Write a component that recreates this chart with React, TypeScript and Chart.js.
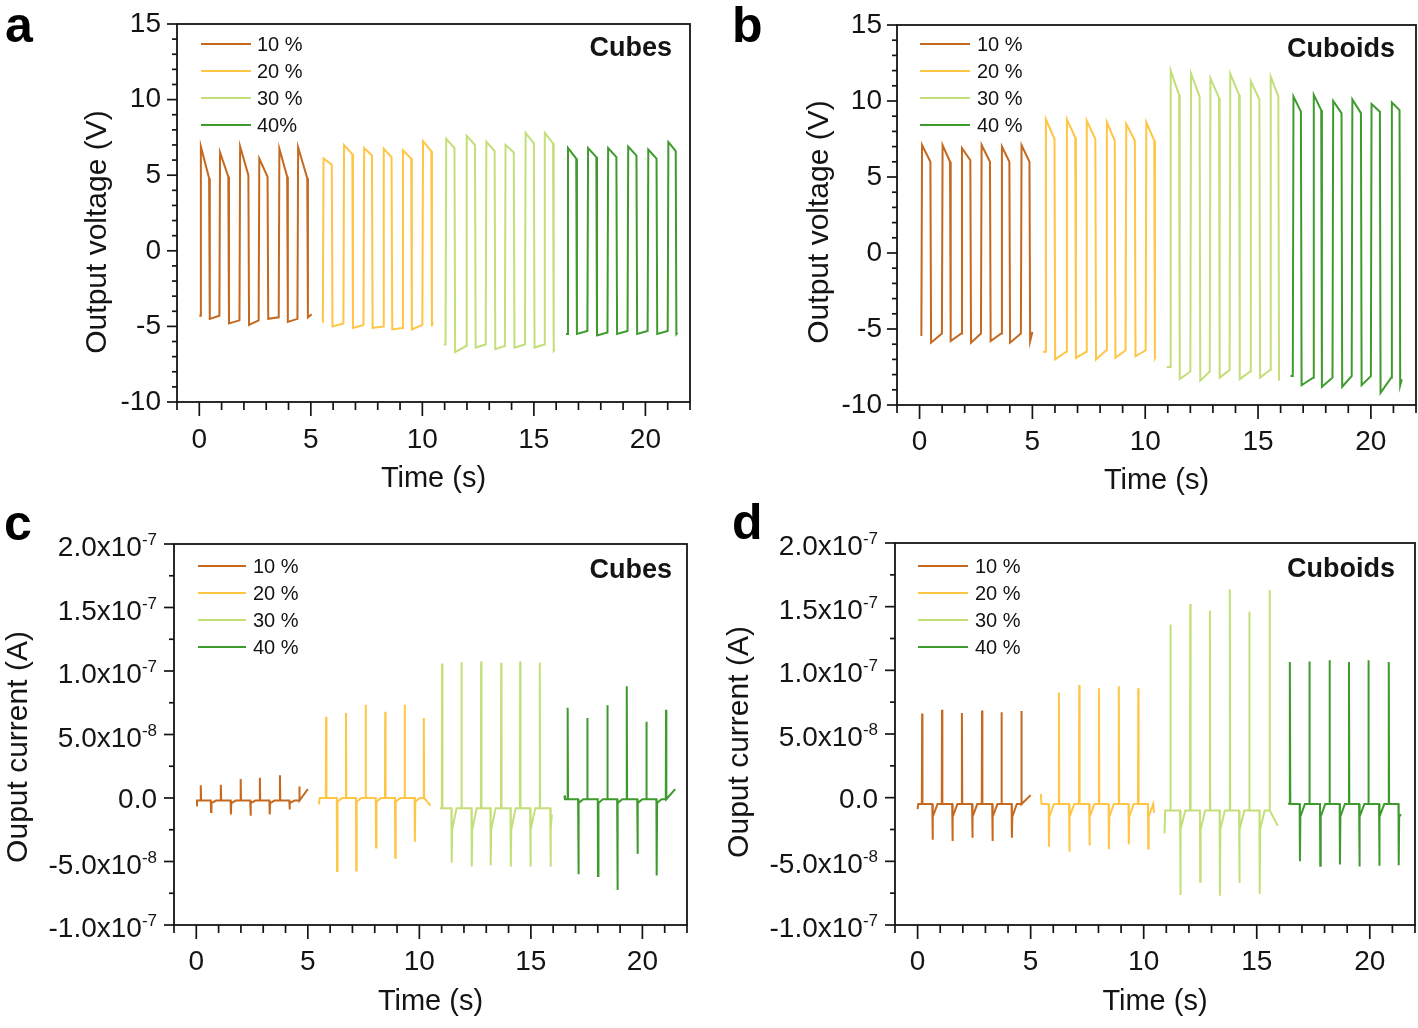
import React, { useEffect, useRef } from 'react';
import { Chart, registerables } from 'chart.js';

Chart.register(...registerables);

const FONT = "'Liberation Sans', Arial, Helvetica, sans-serif";
const INK = '#141414';

// ---------- shared labels / axes ----------
const LABELS_CUBES_V = ['10 %', '20 %', '30 %', '40%'];
const LABELS = ['10 %', '20 %', '30 %', '40 %'];
const COLORS = ['#C4691F', '#FFC646', '#C3DF7A', '#3E9A2D'];

const TIME_MIN = -1;
const TIME_MAX = 22;
const TIME_LABEL_TICKS = [0, 5, 10, 15, 20];
const VOLT_MIN = -10;
const VOLT_MAX = 15;
const VOLT_LABEL_TICKS = [-10, -5, 0, 5, 10, 15];
const CURR_MIN = -10; // units of 1e-8 A
const CURR_MAX = 20;
const CURR_LABEL_TICKS = [-10, -5, 0, 5, 10, 15, 20];
const CURR_UNIT = 1e-8;

// ---------- (a) Cubes, output voltage (V) ----------
const A_START_T = [0.0, 5.5, 10.96, 16.44];
const A_START_V = [-4.3, -4.7, -6.2, -5.5];
const A_END_T = [5.04, 10.46, 15.94, 21.44];
const A_RISE = [
  [0.04, 0.9, 1.8, 2.66, 3.56, 4.4],
  [5.54, 6.46, 7.36, 8.24, 9.1, 10.0],
  [11.04, 11.96, 12.84, 13.7, 14.6, 15.46],
  [16.5, 17.4, 18.3, 19.2, 20.1, 21.0],
];
const A_FALL = [
  [0.44, 1.3, 2.2, 3.06, 3.94, 4.84],
  [5.94, 6.86, 7.74, 8.62, 9.5, 10.4],
  [11.44, 12.36, 13.24, 14.1, 15.0, 15.86],
  [16.9, 17.8, 18.7, 19.6, 20.5, 21.36],
];
const A_PEAK = [
  [6.9, 6.5, 6.9, 6.1, 6.75, 6.85],
  [6.1, 7.0, 6.8, 6.75, 6.65, 7.25],
  [7.4, 7.6, 7.2, 7.0, 7.8, 7.8],
  [6.8, 6.8, 6.8, 6.9, 6.7, 7.2],
];
const A_HIGH_END = [
  [4.8, 4.9, 5.0, 4.9, 4.9, 4.8],
  [5.7, 6.4, 6.3, 6.2, 6.1, 6.6],
  [6.8, 7.0, 6.6, 6.5, 7.1, 7.1],
  [6.1, 6.2, 6.2, 6.3, 6.1, 6.6],
];
const A_TROUGH = [
  [-4.5, -4.8, -4.9, -4.5, -4.7, -4.4],
  [-5.0, -5.1, -5.1, -5.2, -5.2, -5.0],
  [-6.7, -6.4, -6.5, -6.4, -6.4, -6.6],
  [-5.5, -5.6, -5.5, -5.5, -5.5, -5.5],
];
const A_LOW_END = [
  [-4.3, -4.6, -4.6, -4.4, -4.5, -4.2],
  [-4.8, -4.9, -5.0, -5.1, -4.9, -4.7],
  [-6.3, -6.2, -6.3, -6.2, -6.2, -6.5],
  [-5.3, -5.4, -5.3, -5.3, -5.3, -5.4],
];

// ---------- (b) Cuboids, output voltage (V) ----------
const B_START_T = [0.04, 5.47, 10.95, 16.44];
const B_START_V = [-5.4, -6.5, -7.5, -8.1];
const B_END_T = [5.0, 10.46, 15.94, 21.37];
const B_RISE = [
  [0.08, 0.99, 1.85, 2.72, 3.62, 4.49],
  [5.57, 6.5, 7.38, 8.27, 9.13, 10.02],
  [11.1, 12.0, 12.86, 13.74, 14.65, 15.53],
  [16.54, 17.44, 18.3, 19.15, 20.0, 20.9],
];
const B_FALL = [
  [0.48, 1.35, 2.25, 3.12, 3.98, 4.87],
  [5.98, 6.9, 7.79, 8.65, 9.54, 10.4],
  [11.5, 12.41, 13.27, 14.16, 15.06, 15.9],
  [16.9, 17.8, 18.7, 19.56, 20.4, 21.27],
];
const B_PEAK = [
  [7.1, 7.1, 6.9, 7.1, 7.0, 7.1],
  [8.8, 8.8, 8.7, 8.6, 8.5, 8.6],
  [12.0, 11.8, 11.5, 11.8, 11.3, 11.6],
  [10.3, 10.4, 10.0, 10.1, 9.8, 9.9],
];
const B_HIGH_END = [
  [6.0, 6.0, 6.1, 6.0, 6.0, 6.0],
  [7.5, 7.6, 7.5, 7.4, 7.4, 7.4],
  [10.4, 10.3, 10.2, 10.4, 10.1, 10.3],
  [9.3, 9.4, 9.2, 9.2, 9.3, 9.4],
];
const B_TROUGH = [
  [-5.9, -5.8, -5.9, -5.8, -5.9, -5.8],
  [-7.0, -6.9, -7.0, -6.9, -6.8, -6.9],
  [-8.3, -8.4, -8.2, -8.3, -8.2, -8.4],
  [-8.7, -8.8, -8.8, -8.7, -9.2, -8.7],
];
const B_LOW_END = [
  [-5.3, -5.3, -5.3, -5.3, -5.3, -5.2],
  [-6.5, -6.5, -6.4, -6.4, -6.4, -6.8],
  [-7.8, -7.8, -7.7, -7.8, -7.7, -8.4],
  [-8.2, -8.2, -8.1, -8.1, -8.2, -8.3],
];

// ---------- (c) Cubes, output current (x1e-8 A) ----------
const C_START_T = [0.0, 5.5, 10.92, 16.5];
const C_START_V = [-0.6, -0.5, -0.8, 0.2];
const C_END_T = [5.0, 10.5, 15.94, 21.47];
const C_END_V = [0.7, -0.6, -1.3, 0.7];
const C_BASE = [-0.2, 0.0, -0.8, -0.1];
const C_RECOVER = [-0.4, -0.3, -2.5, -0.4];
const C_POS_T = [
  [0.2, 1.1, 1.99, 2.85, 3.75, 4.62],
  [5.82, 6.71, 7.59, 8.47, 9.34, 10.2],
  [11.02, 11.89, 12.77, 13.67, 14.52, 15.4],
  [16.65, 17.53, 18.43, 19.3, 20.18, 21.06],
];
const C_POS_V = [
  [1.0, 1.05, 1.5, 1.6, 1.8, 0.9],
  [6.4, 6.7, 7.35, 6.8, 7.35, 6.3],
  [10.6, 10.7, 10.75, 10.65, 10.75, 10.65],
  [7.1, 6.3, 7.3, 8.8, 6.0, 6.95],
];
const C_NEG_T = [
  [0.66, 1.55, 2.43, 3.29, 4.18],
  [6.31, 7.17, 8.06, 8.92, 9.8],
  [11.45, 12.35, 13.2, 14.1, 14.98, 15.88],
  [17.13, 18.01, 18.88, 19.78, 20.64],
];
const C_NEG_V = [
  [-1.1, -1.3, -1.4, -1.3, -0.9],
  [-5.75, -5.7, -3.9, -4.7, -3.45],
  [-5.1, -5.4, -5.3, -5.4, -5.4, -5.4],
  [-6.0, -6.15, -7.25, -4.4, -6.1],
];

// ---------- (d) Cuboids, output current (x1e-8 A) ----------
const D_START_T = [0.0, 5.45, 10.92, 16.41];
const D_START_V = [-0.9, 0.3, -2.8, -0.4];
const D_END_T = [5.0, 10.46, 15.93, 21.38];
const D_END_V = [0.2, -1.2, -2.2, -1.3];
const D_BASE = [-0.5, -0.5, -1.0, -0.5];
const D_RECOVER = [-1.5, -1.5, -2.5, -1.5];
const D_POS_T = [
  [0.2, 1.08, 1.96, 2.85, 3.71, 4.59],
  [6.25, 7.15, 8.02, 8.9, 9.76],
  [11.18, 12.06, 12.93, 13.81, 14.67, 15.57],
  [16.47, 17.33, 18.22, 19.08, 19.94, 20.84],
];
const D_POS_V = [
  [6.6, 6.9, 6.65, 6.85, 6.7, 6.8],
  [8.25, 8.85, 8.6, 8.75, 8.6],
  [13.6, 15.2, 14.7, 16.35, 14.6, 16.3],
  [10.65, 10.7, 10.8, 10.65, 10.8, 10.65],
];
const D_NEG_T = [
  [0.66, 1.54, 2.42, 3.31, 4.17],
  [5.81, 6.71, 7.6, 8.46, 9.34, 10.2],
  [11.62, 12.5, 13.37, 14.23, 15.13],
  [16.91, 17.81, 18.68, 19.54, 20.42, 21.28],
];
const D_NEG_V = [
  [-3.3, -3.4, -3.15, -3.4, -3.15],
  [-3.85, -4.25, -3.75, -4.05, -3.65, -4.0],
  [-7.65, -6.6, -7.7, -6.7, -7.55],
  [-5.0, -5.35, -5.25, -5.4, -5.35, -5.3],
];

// ---------- builders ----------
type Pt = { x: number; y: number };
const EDGE = 0.03;

function buildSquare(
  startT: number, startV: number, rise: number[], fall: number[], peak: number[],
  highEnd: number[], trough: number[], lowEnd: number[], endT: number
): Pt[] {
  const pts: Pt[] = [{ x: startT, y: startV }];
  for (let i = 0; i < rise.length; i++) {
    const prevLow = i === 0 ? startV : lowEnd[i - 1];
    pts.push({ x: rise[i], y: prevLow });
    pts.push({ x: rise[i] + EDGE, y: peak[i] });
    pts.push({ x: fall[i], y: highEnd[i] });
    pts.push({ x: fall[i] + EDGE, y: trough[i] });
  }
  pts.push({ x: endT, y: lowEnd[lowEnd.length - 1] });
  return pts;
}

function buildSpikes(
  startT: number, startV: number, base: number, posT: number[], posV: number[],
  negT: number[], negV: number[], recover: number, endT: number, endV: number
): Pt[] {
  const events = [
    ...posT.map((t, i) => ({ t, v: posV[i], neg: false })),
    ...negT.map((t, i) => ({ t, v: negV[i], neg: true })),
  ].sort((a, b) => a.t - b.t);
  let pts: Pt[] = [{ x: startT, y: startV }, { x: startT + 0.03, y: base }];
  events.forEach((e) => {
    pts.push({ x: e.t - 0.012, y: base });
    pts.push({ x: e.t, y: e.v });
    if (e.neg) {
      pts.push({ x: e.t + 0.02, y: recover });
      pts.push({ x: e.t + 0.22, y: base });
    } else {
      pts.push({ x: e.t + 0.015, y: base });
    }
  });
  pts = pts.filter((p) => p.x < endT - 0.02);
  pts.push({ x: endT, y: endV });
  return pts;
}

function dsStyle(label: string, s: number, data: Pt[]) {
  return {
    label,
    data,
    borderColor: COLORS[s],
    backgroundColor: COLORS[s],
    borderWidth: 2,
    pointRadius: 0,
    tension: 0,
    fill: false,
  };
}

function voltageSets(startT: number[], startV: number[], rise: number[][], fall: number[][], peak: number[][],
  highEnd: number[][], trough: number[][], lowEnd: number[][], endT: number[], labels: string[]) {
  return labels.map((label, s) =>
    dsStyle(label, s, buildSquare(startT[s], startV[s], rise[s], fall[s], peak[s], highEnd[s], trough[s], lowEnd[s], endT[s]))
  );
}

function currentSets(startT: number[], startV: number[], base: number[], posT: number[][], posV: number[][],
  negT: number[][], negV: number[][], recover: number[], endT: number[], endV: number[], labels: string[]) {
  return labels.map((label, s) =>
    dsStyle(label, s, buildSpikes(startT[s], startV[s], base[s], posT[s], posV[s], negT[s], negV[s], recover[s], endT[s], endV[s]))
  );
}

function sciParts(v: number): [string, string] {
  if (v === 0) return ['0.0', ''];
  const a = v * CURR_UNIT;
  const e = Math.floor(Math.log10(Math.abs(a)) + 1e-9);
  const m = a / Math.pow(10, e);
  return [m.toFixed(1) + 'x10', String(e)];
}

// ---------- panel configuration ----------
type PanelCfg = {
  key: string;
  left: number; top: number; w: number; h: number;
  pad: { top: number; right: number };
  yWidth: number; xHeight: number;
  yLabelPad: number; xLabelPad: number; xTitlePad: number;
  kind: 'V' | 'I';
  letter: string; letterX: number; letterY: number;
  tag: string; tagRight: number; tagBase: number;
  yTitle: string; yTitleX: number; yTitleY: number;
  legX0: number; legX1: number; legText: number; legRow0: number;
  sciRight?: number;
  datasets: any[];
};

const PANELS: PanelCfg[] = [
  {
    key: 'a', left: 0, top: 0, w: 709, h: 510,
    pad: { top: 24, right: 19 }, yWidth: 177, xHeight: 108,
    yLabelPad: 16, xLabelPad: 21, xTitlePad: 13.5, kind: 'V',
    letter: 'a', letterX: 5, letterY: 42,
    tag: 'Cubes', tagRight: 18, tagBase: 32,
    yTitle: 'Output voltage (V)', yTitleX: 98, yTitleY: 232,
    legX0: 24, legX1: 74, legText: 80, legRow0: 20,
    datasets: voltageSets(A_START_T, A_START_V, A_RISE, A_FALL, A_PEAK, A_HIGH_END, A_TROUGH, A_LOW_END, A_END_T, LABELS_CUBES_V),
  },
  {
    key: 'b', left: 709, top: 0, w: 709, h: 510,
    pad: { top: 25, right: 2 }, yWidth: 188, xHeight: 105,
    yLabelPad: 15, xLabelPad: 20, xTitlePad: 11.5, kind: 'V',
    letter: 'b', letterX: 23, letterY: 42,
    tag: 'Cuboids', tagRight: 21, tagBase: 32,
    yTitle: 'Output voltage (V)', yTitleX: 111, yTitleY: 222,
    legX0: 23, legX1: 73, legText: 80, legRow0: 19,
    datasets: voltageSets(B_START_T, B_START_V, B_RISE, B_FALL, B_PEAK, B_HIGH_END, B_TROUGH, B_LOW_END, B_END_T, LABELS),
  },
  {
    key: 'c', left: 0, top: 500, w: 709, h: 528,
    pad: { top: 44, right: 22 }, yWidth: 174, xHeight: 103,
    yLabelPad: 17, xLabelPad: 20, xTitlePad: 8.5, kind: 'I',
    letter: 'c', letterX: 4, letterY: 40,
    tag: 'Cubes', tagRight: 15, tagBase: 34,
    yTitle: 'Ouput current (A)', yTitleX: 19, yTitleY: 247,
    legX0: 24, legX1: 72, legText: 79, legRow0: 22,
    sciRight: 157,
    datasets: currentSets(C_START_T, C_START_V, C_BASE, C_POS_T, C_POS_V, C_NEG_T, C_NEG_V, C_RECOVER, C_END_T, C_END_V, LABELS),
  },
  {
    key: 'd', left: 709, top: 500, w: 709, h: 528,
    pad: { top: 43, right: 3 }, yWidth: 186, xHeight: 103,
    yLabelPad: 17, xLabelPad: 20, xTitlePad: 8.5, kind: 'I',
    letter: 'd', letterX: 23, letterY: 39,
    tag: 'Cuboids', tagRight: 20, tagBase: 34,
    yTitle: 'Ouput current (A)', yTitleX: 31, yTitleY: 242,
    legX0: 23, legX1: 73, legText: 80, legRow0: 23,
    sciRight: 169,
    datasets: currentSets(D_START_T, D_START_V, D_BASE, D_POS_T, D_POS_V, D_NEG_T, D_NEG_V, D_RECOVER, D_END_T, D_END_V, LABELS),
  },
];

function decorPlugin(p: PanelCfg) {
  return {
    id: 'decor_' + p.key,
    afterDraw(chart: any) {
      const ctx: CanvasRenderingContext2D = chart.ctx;
      const { left, right, top, bottom } = chart.chartArea;
      const xs = chart.scales.x;
      const ys = chart.scales.y;
      ctx.save();

      // frame
      ctx.strokeStyle = INK;
      ctx.lineWidth = 1.8;
      ctx.strokeRect(left, top, right - left, bottom - top);

      // x tick marks (every second, long at labelled values)
      ctx.lineWidth = 1.7;
      for (let v = TIME_MIN; v <= TIME_MAX; v += 1) {
        const px = xs.getPixelForValue(v);
        const major = TIME_LABEL_TICKS.includes(v);
        ctx.beginPath();
        ctx.moveTo(px, bottom);
        ctx.lineTo(px, bottom + (major ? 14 : 8));
        ctx.stroke();
      }
      // y tick marks
      const yStep = p.kind === 'V' ? 1 : 2.5;
      const yMin = p.kind === 'V' ? VOLT_MIN : CURR_MIN;
      const yMax = p.kind === 'V' ? VOLT_MAX : CURR_MAX;
      for (let v = yMin; v <= yMax + 1e-9; v += yStep) {
        const py = ys.getPixelForValue(v);
        const major = Math.abs(v / 5 - Math.round(v / 5)) < 1e-6;
        ctx.beginPath();
        ctx.moveTo(left, py);
        ctx.lineTo(left - (major ? 10 : 5), py);
        ctx.stroke();
      }

      // scientific y tick labels for current panels
      if (p.kind === 'I' && p.sciRight !== undefined) {
        ctx.fillStyle = INK;
        ctx.textAlign = 'right';
        ctx.textBaseline = 'alphabetic';
        CURR_LABEL_TICKS.forEach((v) => {
          const py = ys.getPixelForValue(v);
          const [main, sup] = sciParts(v);
          ctx.font = `17px ${FONT}`;
          const supW = sup ? ctx.measureText(sup).width : 0;
          if (sup) ctx.fillText(sup, p.sciRight!, py + 1);
          ctx.font = `28px ${FONT}`;
          ctx.fillText(main, p.sciRight! - supW, py + (sup ? 12 : 10));
        });
      }

      // legend
      ctx.textAlign = 'left';
      ctx.textBaseline = 'middle';
      ctx.font = `20px ${FONT}`;
      chart.data.datasets.forEach((ds: any, i: number) => {
        const y = top + p.legRow0 + i * 27;
        ctx.strokeStyle = ds.borderColor;
        ctx.lineWidth = 2.2;
        ctx.beginPath();
        ctx.moveTo(left + p.legX0, y);
        ctx.lineTo(left + p.legX1, y);
        ctx.stroke();
        ctx.fillStyle = INK;
        ctx.fillText(ds.label, left + p.legText, y + 1);
      });

      // sample tag
      ctx.font = `bold 27px ${FONT}`;
      ctx.textAlign = 'right';
      ctx.textBaseline = 'alphabetic';
      ctx.fillStyle = INK;
      ctx.fillText(p.tag, right - p.tagRight, top + p.tagBase);

      // panel letter
      ctx.font = `bold 50px ${FONT}`;
      ctx.textAlign = 'left';
      ctx.fillStyle = '#000';
      ctx.fillText(p.letter, p.letterX, p.letterY);

      // y axis title
      ctx.save();
      ctx.translate(p.yTitleX, p.yTitleY);
      ctx.rotate(-Math.PI / 2);
      ctx.font = `30px ${FONT}`;
      ctx.textAlign = 'center';
      ctx.textBaseline = 'middle';
      ctx.fillStyle = INK;
      ctx.fillText(p.yTitle, 0, 0);
      ctx.restore();

      ctx.restore();
    },
  };
}

function buildConfig(p: PanelCfg): any {
  const isV = p.kind === 'V';
  return {
    type: 'line',
    data: { datasets: p.datasets },
    plugins: [decorPlugin(p)],
    options: {
      responsive: false,
      maintainAspectRatio: false,
      animation: false,
      events: [],
      layout: { autoPadding: false, padding: { left: 0, top: p.pad.top, right: p.pad.right, bottom: 0 } },
      plugins: { legend: { display: false }, tooltip: { enabled: false } },
      scales: {
        x: {
          type: 'linear',
          min: TIME_MIN,
          max: TIME_MAX,
          grid: { display: false, drawTicks: false },
          border: { display: false },
          afterBuildTicks: (s: any) => { s.ticks = TIME_LABEL_TICKS.map((v) => ({ value: v })); },
          afterFit: (s: any) => {
            s.height = p.xHeight;
            s.paddingLeft = 0; s.paddingRight = 0; s.paddingTop = 0; s.paddingBottom = 0;
          },
          ticks: {
            autoSkip: false,
            maxRotation: 0,
            padding: p.xLabelPad,
            color: INK,
            font: { family: FONT, size: 28, lineHeight: 1.2 },
          },
          title: {
            display: true,
            text: 'Time (s)',
            color: INK,
            font: { family: FONT, size: 29, lineHeight: 1.2 },
            padding: { top: 0, bottom: p.xTitlePad },
          },
        },
        y: {
          type: 'linear',
          min: isV ? VOLT_MIN : CURR_MIN,
          max: isV ? VOLT_MAX : CURR_MAX,
          grid: { display: false, drawTicks: false },
          border: { display: false },
          afterBuildTicks: (s: any) => {
            s.ticks = (isV ? VOLT_LABEL_TICKS : CURR_LABEL_TICKS).map((v) => ({ value: v }));
          },
          afterFit: (s: any) => {
            s.width = p.yWidth;
            s.paddingLeft = 0; s.paddingRight = 0; s.paddingTop = 0; s.paddingBottom = 0;
          },
          ticks: {
            display: isV,
            autoSkip: false,
            padding: p.yLabelPad,
            color: INK,
            font: { family: FONT, size: 28, lineHeight: 1.2 },
          },
        },
      },
    },
  };
}

function Panel({ cfg }: { cfg: PanelCfg }) {
  const ref = useRef<HTMLCanvasElement>(null);
  useEffect(() => {
    if (!ref.current) return;
    const chart = new Chart(ref.current, buildConfig(cfg));
    return () => chart.destroy();
  }, [cfg]);
  return (
    <canvas
      ref={ref}
      width={cfg.w}
      height={cfg.h}
      style={{ position: 'absolute', left: cfg.left, top: cfg.top, width: cfg.w, height: cfg.h }}
    />
  );
}

export default function App() {
  return (
    <div style={{ position: 'absolute', left: 0, top: 0, width: 1418, height: 1028, background: '#fff', overflow: 'hidden' }}>
      {PANELS.map((p) => (
        <Panel key={p.key} cfg={p} />
      ))}
    </div>
  );
}
